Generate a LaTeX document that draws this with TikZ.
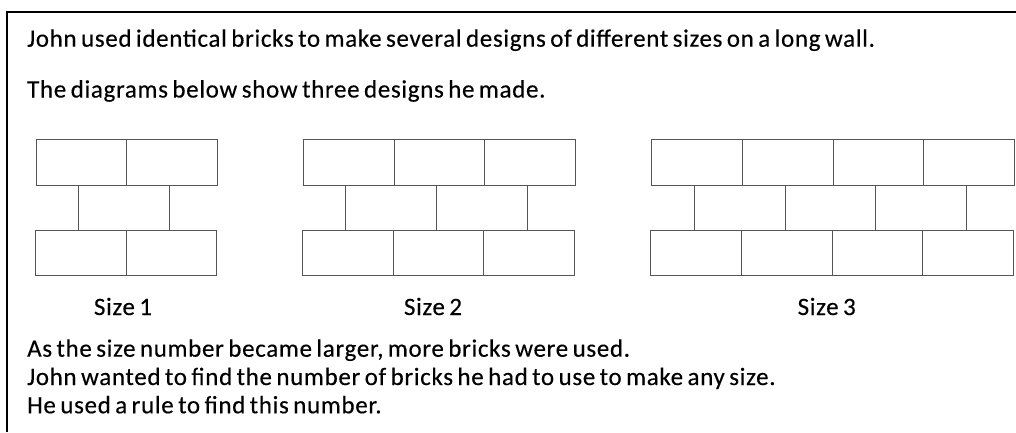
\documentclass[tikz,border=0pt]{standalone}
\usepackage{fontspec}
\setmainfont{Carlito}[LetterSpace=2.7, WordSpace=0.7, FakeBold=0.3]
\usetikzlibrary{positioning}
\definecolor{brickline}{RGB}{85,85,85}

\tikzset{
  brick/.style={draw=brickline, line width=0.9pt, minimum width=90.7pt, minimum height=45.3pt, inner sep=0pt, outer sep=0pt, anchor=north west},
  gap/.style={draw=brickline, line width=0.9pt},
  txt/.style={anchor=base west, inner sep=0pt, font=\fontsize{25}{29}\selectfont},
  sizelabel/.style={anchor=base, inner sep=0pt, font=\fontsize{25}{29}\selectfont}
}

\begin{document}
\begin{tikzpicture}[x=1pt, y=-1pt]
    \useasboundingbox (0,0) rectangle (1016,432);
    % frame
    \draw[line width=2pt] (7,432) -- (7,12) -- (1016,12);

    \node[txt] (line1) at (27,46.7) {John used identical bricks to make several designs of different sizes on a long wall.};
    \node[txt] (line2) at (27,97.5) {The diagrams below show three designs he made.};

    % the three designs
    \foreach \s/\xt/\xb/\lx in {1/36/35.3/123, 2/303.3/302.3/433, 3/651.7/650.7/826.7} {
        \foreach \k in {0,...,\s} {
            \node[brick] (top\s-\k) at (\xt+\k*90.7, 139.7) {};
            \node[brick] (bot\s-\k) at (\xb+\k*90.7, 230) {};
            \draw[gap] (\xt+42.6+\k*90.7, 185) -- ++(0,45);
        }
        \node[sizelabel] (size\s) at (\lx,315) {Size \s};
    }

    \node[txt] (line3) at (27,356.7) {As the size number became larger, more bricks were used.};
    \node[txt] (line4) at (27,385) {John wanted to find the number of bricks he had to use to make any size.};
    \node[txt] (line5) at (27,413.3) {He used a rule to find this number.};
\end{tikzpicture}
\end{document}
